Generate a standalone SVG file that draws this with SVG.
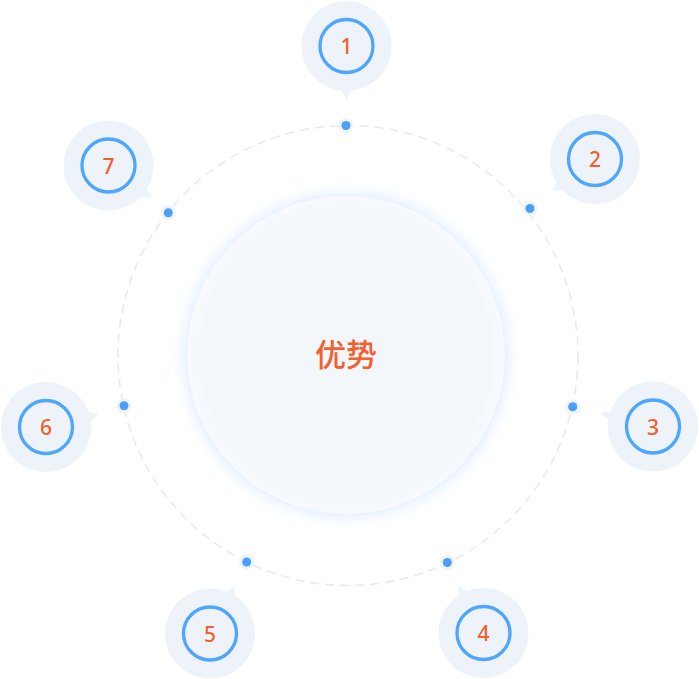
<svg xmlns="http://www.w3.org/2000/svg" width="699" height="679" viewBox="0 0 699 679">
<style>
.bub{fill:#eef3fa}
.ring{fill:none;stroke:#4ea6fd;stroke-width:3.3}
.num{font-family:"Noto Sans","Open Sans",sans-serif;font-size:21px;font-weight:500;fill:#f2602d;text-anchor:middle;dominant-baseline:central}
.halo{fill:#eef4fb}
.dot{fill:#4c9ff7}
</style>
<defs>
<filter id="glow" x="-20%" y="-20%" width="140%" height="140%">
<feGaussianBlur stdDeviation="8"/>
</filter>
<radialGradient id="cg" cx="50%" cy="50%" r="50%">
<stop offset="0.9" stop-color="#f3f7fc"/>
<stop offset="1" stop-color="#f8fafd"/>
</radialGradient>
<g id="bubble">
<circle class="bub" r="45"/>
<polygon class="bub" points="0,54 -8,38 8,38"/>
</g>
</defs>
<rect width="699" height="679" fill="#ffffff"/>
<g id="connectors">
<circle cx="348" cy="355.5" r="230" fill="none" stroke="#e8eaee" stroke-width="1.6" stroke-dasharray="9 6"/>
<circle class="halo" cx="346" cy="125.5" r="7.5"/><circle class="dot" cx="346" cy="125.5" r="4.5"/>
<circle class="halo" cx="530" cy="208.5" r="7.5"/><circle class="dot" cx="530" cy="208.5" r="4.5"/>
<circle class="halo" cx="572.7" cy="406.7" r="7.5"/><circle class="dot" cx="572.7" cy="406.7" r="4.5"/>
<circle class="halo" cx="447.3" cy="562.5" r="7.5"/><circle class="dot" cx="447.3" cy="562.5" r="4.5"/>
<circle class="halo" cx="246.7" cy="562" r="7.5"/><circle class="dot" cx="246.7" cy="562" r="4.5"/>
<circle class="halo" cx="124" cy="405.7" r="7.5"/><circle class="dot" cx="124" cy="405.7" r="4.5"/>
<circle class="halo" cx="168.3" cy="212.7" r="7.5"/><circle class="dot" cx="168.3" cy="212.7" r="4.5"/>
</g>
<g id="center">
<circle cx="346" cy="355" r="160" fill="#d4e8ff" filter="url(#glow)"/>
<circle cx="346" cy="355" r="159" fill="url(#cg)"/>
<text x="346" y="352" font-family="'Noto Sans CJK SC',sans-serif" font-size="31" font-weight="500" fill="#f2602d" text-anchor="middle" dominant-baseline="central">优势</text>
</g>
<g id="node1" transform="translate(346.5,46)">
<use href="#bubble"/><circle class="ring" r="26.5"/><text class="num">1</text>
</g>
<g id="node2" transform="translate(595,159)">
<use href="#bubble" transform="rotate(53)"/><circle class="ring" r="26.5"/><text class="num">2</text>
</g>
<g id="node3" transform="translate(653,426.5)">
<use href="#bubble" transform="rotate(104)"/><circle class="ring" r="26.5"/><text class="num">3</text>
</g>
<g id="node4" transform="translate(483.5,633)">
<use href="#bubble" transform="rotate(152)"/><circle class="ring" r="26.5"/><text class="num">4</text>
</g>
<g id="node5" transform="translate(210,633.5)">
<use href="#bubble" transform="rotate(-152)"/><circle class="ring" r="26.5"/><text class="num">5</text>
</g>
<g id="node6" transform="translate(46,427)">
<use href="#bubble" transform="rotate(-104)"/><circle class="ring" r="26.5"/><text class="num">6</text>
</g>
<g id="node7" transform="translate(108.5,165.5)">
<use href="#bubble" transform="rotate(-53)"/><circle class="ring" r="26.5"/><text class="num">7</text>
</g>
</svg>
